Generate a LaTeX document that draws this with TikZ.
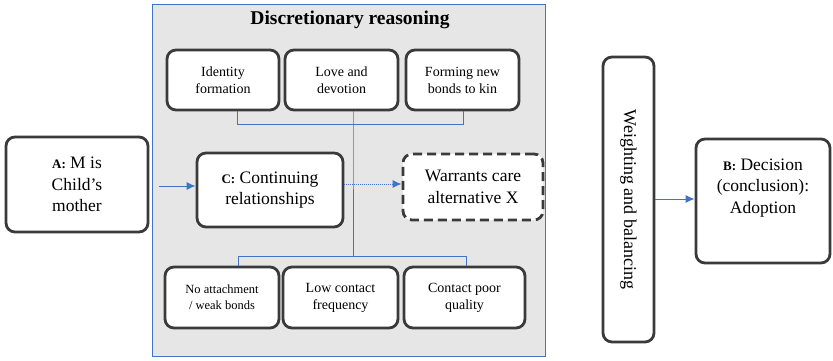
\documentclass[tikz,border=0pt]{standalone}
\usepackage{fontspec}
\setmainfont{Liberation Serif}
\usetikzlibrary{arrows.meta}
\definecolor{bordergray}{HTML}{3A3A3A}
\definecolor{panelgray}{HTML}{E6E6E6}
\definecolor{linkblue}{HTML}{4472C4}
\tikzset{
  box/.style={draw=bordergray, line width=2.8pt, rounded corners=9pt, fill=white, align=center, inner sep=0pt},
  small/.style={font=\fontsize{14}{17}\selectfont},
  tiny/.style={font=\fontsize{12.5}{16}\selectfont},
  big/.style={font=\fontsize{17.5}{21.5}\selectfont},
  link/.style={draw=linkblue, line width=1pt},
  arr/.style={link, -{Latex[length=9pt,width=8pt]}},
}
\newcommand{\tag}[1]{{\fontsize{13}{15}\selectfont\bfseries #1}}
\begin{document}
\begin{tikzpicture}[x=1pt,y=-1pt]
\useasboundingbox (0,0) rectangle (833,360);
% panel
\node[draw=linkblue, line width=0.9pt, fill=panelgray, minimum width=393pt, minimum height=352pt, inner sep=0pt] (panel) at (348.5,180) {};
\node[font=\fontsize{19.5}{22}\selectfont\bfseries] (title) at (350,20) {Discretionary reasoning};
% top boxes
\node[box, small, minimum width=112pt, minimum height=60pt] (t1) at (223,80) {Identity\\formation};
\node[box, small, minimum width=113pt, minimum height=60pt] (t2) at (341.5,80) {Love and\\devotion};
\node[box, small, minimum width=113pt, minimum height=60pt] (t3) at (462.5,80) {Forming new\\bonds to kin};
% bottom boxes
\node[box, tiny, minimum width=114pt, minimum height=61pt] (b1) at (222,297.5) {No attachment\\/ weak bonds};
\node[box, small, minimum width=115pt, minimum height=61pt] (b2) at (340.5,297.5) {Low contact\\frequency};
\node[box, small, minimum width=121pt, minimum height=61pt] (b3) at (464.5,297.5) {Contact poor\\quality};
% middle
\node[box, big, minimum width=146pt, minimum height=74pt] (C) at (270,190) {\tag{C:} Continuing\\relationships};
\node[box, big, dashed, dash pattern=on 9pt off 5pt, minimum width=140pt, minimum height=66pt] (W) at (473,187) {Warrants care\\alternative X};
\node[box, big, minimum width=142pt, minimum height=95pt] (A) at (77,184.5) {\tag{A:} M is\\Child's\\mother};
\node[box, minimum width=51pt, minimum height=285pt] (WB) at (628.5,199.5) {};
\node[rotate=-90, font=\fontsize{18}{20}\selectfont] (WBt) at (WB.center) {Weighting and balancing};
\node[box, minimum width=134pt, minimum height=124pt, label={[big, align=center, yshift=13pt]center:\tag{B:} Decision\\(conclusion):\\Adoption}] (B) at (763,201) {};
% connectors
\coordinate (tl) at (237,124);
\coordinate (tr) at (463,124);
\coordinate (tm) at (353,124);
\coordinate (bl) at (238,256);
\coordinate (br) at (466,256);
\coordinate (bm) at (353,256);
\draw[link] (t1.south -| tl) -- (tl) -- (tr) -- (t3.south -| tr);
\draw[link] (t2.south -| tm) -- (tm) -- (bm);
\draw[link] (b1.north -| bl) -- (bl) -- (br) -- (b3.north -| br);
\coordinate (ya) at (0,186);
\coordinate (yc) at (0,184);
\coordinate (yb) at (0,199);
\draw[arr, shorten <=10pt] (A.east |- ya) -- (C.west |- ya);
\draw[arr, densely dotted] (C.east |- yc) -- (W.west |- yc);
\draw[arr] (WB.east |- yb) -- (B.west |- yb);
\end{tikzpicture}
\end{document}
